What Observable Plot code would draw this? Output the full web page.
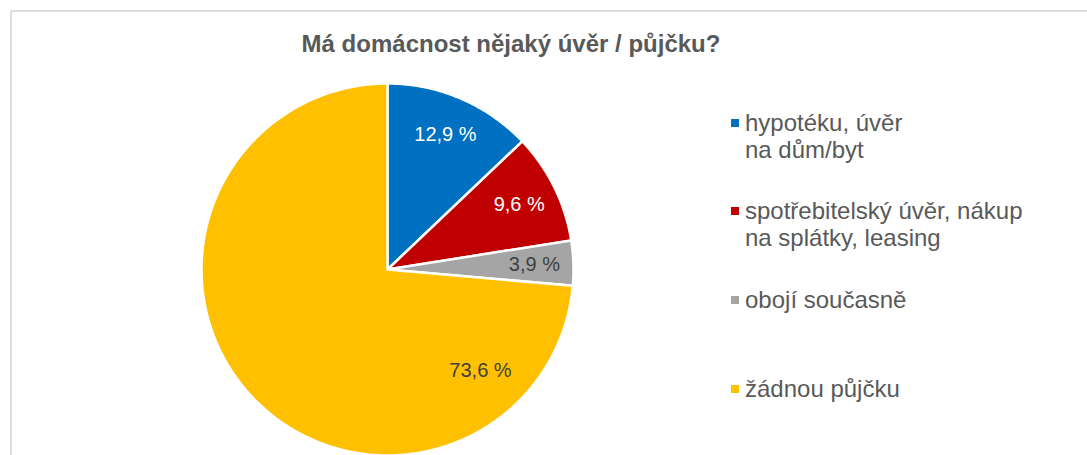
<!DOCTYPE html>
<html>
<head>
<meta charset="utf-8">
<script src="https://cdn.jsdelivr.net/npm/d3@7"></script>
<script src="https://cdn.jsdelivr.net/npm/@observablehq/plot@0.6"></script>
<style>
  html, body { margin: 0; padding: 0; background: #fff; }
  #wrap { position: relative; width: 1087px; height: 455px; overflow: hidden; font-family: "Liberation Sans", Arial, sans-serif; }
  #frame { position: absolute; left: 10px; top: 10px; width: 1100px; height: 500px; border-top: 2px solid #dedede; border-left: 2px solid #dedede; box-sizing: border-box; }
  #title { position: absolute; left: 0; width: 1022px; top: 32px; text-align: center; font-family: "Liberation Sans Narrow", "Arial Narrow", "Liberation Sans", Arial, sans-serif; font-weight: bold; font-size: 24px; line-height: 24px; color: #595959; white-space: nowrap; }
  #chart { position: absolute; left: 0; top: 0; }
  .leg { position: absolute; left: 745px; font-size: 24px; line-height: 27px; color: #595959; white-space: nowrap; }
  .sw { position: absolute; left: -14px; top: 10px; width: 8px; height: 8px; }
</style>
</head>
<body>
<div id="wrap">
  <div id="frame"></div>
  <div id="chart"></div>
  <div id="title"></div>
  <div id="legend"></div>
</div>
<script>
// ---- data ----
const title = "Má domácnost nějaký úvěr / půjčku?";
const categories = ["hypotéku, úvěr na dům/byt", "spotřebitelský úvěr, nákup na splátky, leasing", "obojí současně", "žádnou půjčku"];
const legendLines = [["hypotéku, úvěr", "na dům/byt"], ["spotřebitelský úvěr, nákup", "na splátky, leasing"], ["obojí současně"], ["žádnou půjčku"]];
const values = [12.9, 9.6, 3.9, 73.6];
const valueLabels = ["12,9 %", "9,6 %", "3,9 %", "73,6 %"];
const colors = ["#0070C0", "#C00000", "#A5A5A5", "#FFC000"];
const labelColors = ["#ffffff", "#ffffff", "#404040", "#404040"];

// ---- layout ----
const W = 1087, H = 455;
const cx = 387, cy = 269, R = 186;

const arcs = d3.pie().sort(null).value(d => d)(values);

const pts = [];
arcs.forEach((a, i) => {
  const n = Math.max(8, Math.ceil((a.endAngle - a.startAngle) / 0.01));
  pts.push({k: categories[i], x: 0, y: 0});
  for (let j = 0; j <= n; j++) {
    const t = a.startAngle + (a.endAngle - a.startAngle) * j / n;
    pts.push({k: categories[i], x: Math.sin(t), y: Math.cos(t)});
  }
});

const labels = arcs.map((a, i) => {
  const big = a.endAngle - a.startAngle > Math.PI;
  const ang = big ? (a.startAngle + Math.PI) / 2 : (a.startAngle + a.endAngle) / 2;
  const r = big ? 0.74 : 0.79;
  return {x: r * Math.sin(ang), y: r * Math.cos(ang), text: valueLabels[i], c: labelColors[i]};
});

const plot = Plot.plot({
  width: W,
  height: H,
  margin: 0,
  x: {domain: [-cx / R, (W - cx) / R], range: [0, W], axis: null},
  y: {domain: [-(H - cy) / R, cy / R], range: [H, 0], axis: null},
  color: {domain: categories, range: colors},
  style: {background: "transparent", overflow: "visible"},
  marks: [
    Plot.line(pts, {x: "x", y: "y", z: "k", fill: "k", stroke: "#ffffff", strokeWidth: 2.5, strokeLinejoin: "round", curve: "linear-closed"}),
    Plot.text(labels, {x: "x", y: "y", text: "text", fill: d => d.c, fontSize: 20, fontFamily: "Liberation Sans, Arial, sans-serif"})
  ]
});
document.getElementById("chart").appendChild(plot);
document.getElementById("title").textContent = title;

const tops = [109, 197, 286, 375];
const leg = document.getElementById("legend");
legendLines.forEach((lines, i) => {
  const d = document.createElement("div");
  d.className = "leg";
  d.style.top = tops[i] + "px";
  const sw = document.createElement("span");
  sw.className = "sw";
  sw.style.background = colors[i];
  d.appendChild(sw);
  lines.forEach((l, j) => {
    if (j) d.appendChild(document.createElement("br"));
    d.appendChild(document.createTextNode(l));
  });
  leg.appendChild(d);
});
</script>
</body>
</html>
